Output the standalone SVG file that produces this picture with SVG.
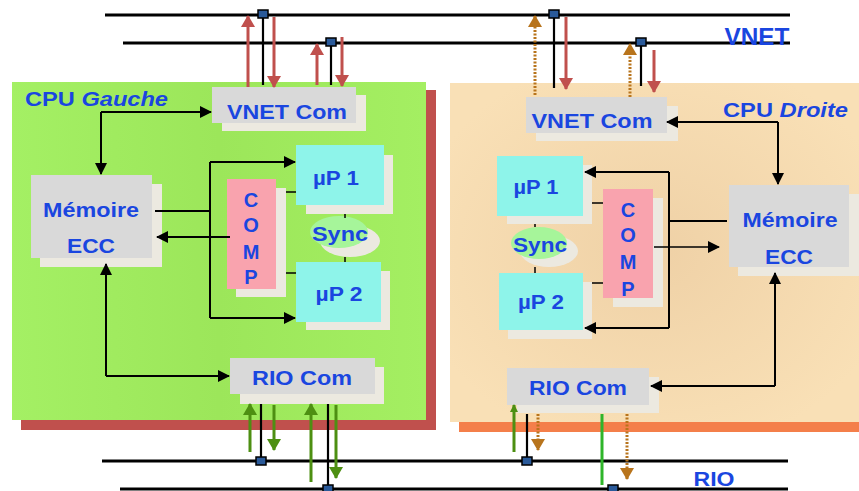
<svg xmlns="http://www.w3.org/2000/svg" width="859" height="491" viewBox="0 0 859 491">
<defs>
<style>
.t{font-family:"Liberation Sans",Arial,sans-serif;font-weight:bold;fill:#1a46e0;text-anchor:middle;dominant-baseline:central;font-size:21px}
.box{fill:#d9d9d9}
.sh{fill:#ece9e0}
.up{fill:#8ef4ea}
.cmp{fill:#f9a3ae}
.bus{stroke:#000;stroke-width:3;fill:none}
.blk{stroke:#000;stroke-width:2.2;fill:none}
.con{stroke:#000;stroke-width:2;fill:none}
.red{stroke:#c0504d;stroke-width:3;fill:none}
.grn{stroke:#4d8f12;stroke-width:3;fill:none}
.grn2{stroke:#2fb52a;stroke-width:3;fill:none}
.org{stroke:#b8741c;stroke-width:3;stroke-dasharray:2 1.5;fill:none}
.nd{fill:#2a5a9a;stroke:#000;stroke-width:1.5}
</style>
<marker id="agS" markerWidth="8" markerHeight="8" refX="7" refY="4" orient="auto" markerUnits="userSpaceOnUse" viewBox="0 0 8 8"><path d="M0,0L8,4L0,8z" fill="#4d8f12"/></marker>
<marker id="ahL" markerWidth="12" markerHeight="12" refX="11" refY="6" orient="auto" markerUnits="userSpaceOnUse" viewBox="0 0 12 12"><path d="M0,0L12,6L0,12z" fill="#000"/></marker>
<marker id="ar" markerWidth="12" markerHeight="14" refX="11" refY="7" orient="auto" markerUnits="userSpaceOnUse" viewBox="0 0 12 14"><path d="M0,0L12,7L0,14z" fill="#c0504d"/></marker>
<marker id="ag" markerWidth="12" markerHeight="14" refX="11" refY="7" orient="auto" markerUnits="userSpaceOnUse" viewBox="0 0 12 14"><path d="M0,0L12,7L0,14z" fill="#4d8f12"/></marker>
<marker id="ao" markerWidth="12" markerHeight="14" refX="11" refY="7" orient="auto" markerUnits="userSpaceOnUse" viewBox="0 0 12 14"><path d="M0,0L12,7L0,14z" fill="#b8741c"/></marker>
<linearGradient id="gg" x1="0" y1="0" x2="1" y2="0"><stop offset="0" stop-color="#a4f064"/><stop offset="0.5" stop-color="#9ce65a"/><stop offset="1" stop-color="#a4ef62"/></linearGradient>
<radialGradient id="pg" cx="0.5" cy="0.5" r="0.6"><stop offset="0" stop-color="#efd1a6"/><stop offset="1" stop-color="#f9e0b6"/></radialGradient>
</defs>
<rect width="859" height="491" fill="#fff"/>

<!-- panels -->
<g id="panel-left">
<rect x="21" y="90" width="415" height="340" fill="#c0504d"/>
<rect x="12" y="82" width="414" height="338" fill="url(#gg)"/>
<text x="25" y="99" class="t" style="text-anchor:start;font-size:20px" textLength="143" lengthAdjust="spacingAndGlyphs">CPU <tspan font-style="italic">Gauche</tspan></text>
</g>
<g id="panel-right">
<rect x="459" y="92" width="400" height="340" fill="#f47f4a"/>
<rect x="450" y="83" width="409" height="339" fill="url(#pg)"/>
<text x="723" y="110" class="t" style="text-anchor:start;font-size:20px" textLength="125" lengthAdjust="spacingAndGlyphs">CPU <tspan font-style="italic">Droite</tspan></text>
</g>

<!-- buses -->
<g id="buses">
<line x1="105" y1="15" x2="790" y2="15" class="bus"/>
<line x1="123" y1="43" x2="790" y2="43" class="bus"/>
<line x1="102" y1="461" x2="788" y2="461" class="bus"/>
<line x1="120" y1="489" x2="788" y2="489" class="bus"/>
<text x="757" y="37" class="t" style="font-size:23px" textLength="65" lengthAdjust="spacingAndGlyphs">VNET</text>
<text x="714" y="478" class="t" style="font-size:21px" textLength="41" lengthAdjust="spacingAndGlyphs">RIO</text>
</g>

<!-- left nodes -->
<g id="l-vnetcom"><rect x="222" y="95" width="144" height="36" class="sh"/><rect x="212" y="87" width="144" height="36" class="box"/><text x="287" y="111" class="t" textLength="120" lengthAdjust="spacingAndGlyphs">VNET Com</text></g>
<g id="l-mem"><rect x="40" y="184" width="122" height="83" class="sh"/><rect x="31" y="175" width="121" height="83" class="box"/><text x="91" y="209" class="t" textLength="96" lengthAdjust="spacingAndGlyphs">Mémoire</text><text x="91" y="245" class="t" textLength="48" lengthAdjust="spacingAndGlyphs">ECC</text></g>
<g id="l-comp"><rect x="236" y="188" width="50" height="109" class="sh"/><rect x="227" y="179" width="49" height="110" class="cmp"/><text x="251" y="200" class="t" style="font-size:20px">C</text><text x="251" y="225" class="t" style="font-size:20px">O</text><text x="251" y="252" class="t" style="font-size:20px">M</text><text x="251" y="277" class="t" style="font-size:20px">P</text></g>
<g id="l-up1"><rect x="306" y="155" width="87" height="59" class="sh"/><rect x="296" y="145" width="88" height="60" class="up"/><text x="336" y="177" class="t" textLength="46" lengthAdjust="spacingAndGlyphs">µP 1</text></g>
<g id="l-sync"><ellipse cx="350" cy="241" rx="30" ry="16" class="sh"/><ellipse cx="339" cy="232" rx="29" ry="16" fill="#a6f59a"/><text x="340" y="233" class="t" textLength="56" lengthAdjust="spacingAndGlyphs">Sync</text></g>
<g id="l-up2"><rect x="306" y="271" width="84" height="59" class="sh"/><rect x="296" y="262" width="85" height="60" class="up"/><text x="339" y="293" class="t" textLength="47" lengthAdjust="spacingAndGlyphs">µP 2</text></g>
<g id="l-riocom"><rect x="240" y="367" width="144" height="37" class="sh"/><rect x="230" y="358" width="145" height="36" class="box"/><text x="302" y="377" class="t" textLength="100" lengthAdjust="spacingAndGlyphs">RIO Com</text></g>

<!-- right nodes -->
<g id="r-vnetcom"><rect x="536" y="106" width="142" height="35" class="sh"/><rect x="526" y="97" width="141" height="36" class="box"/><text x="592" y="120" class="t" textLength="121" lengthAdjust="spacingAndGlyphs">VNET Com</text></g>
<g id="r-mem"><rect x="738" y="194" width="121" height="82" class="sh"/><rect x="729" y="185" width="120" height="82" class="box"/><text x="790" y="219" class="t" textLength="95" lengthAdjust="spacingAndGlyphs">Mémoire</text><text x="789" y="256" class="t" textLength="48" lengthAdjust="spacingAndGlyphs">ECC</text></g>
<g id="r-up1"><rect x="507" y="165" width="85" height="59" class="sh"/><rect x="497" y="156" width="86" height="60" class="up"/><text x="536" y="186" class="t" textLength="45" lengthAdjust="spacingAndGlyphs">µP 1</text></g>
<g id="r-sync"><ellipse cx="549" cy="251" rx="29" ry="16" class="sh"/><ellipse cx="539" cy="243" rx="28" ry="16" fill="#a6f59a"/><text x="540" y="244" class="t" textLength="54" lengthAdjust="spacingAndGlyphs">Sync</text></g>
<g id="r-up2"><rect x="508" y="282" width="84" height="57" class="sh"/><rect x="499" y="273" width="84" height="57" class="up"/><text x="541" y="301" class="t" textLength="46" lengthAdjust="spacingAndGlyphs">µP 2</text></g>
<g id="r-comp"><rect x="613" y="198" width="50" height="109" class="sh"/><rect x="603" y="189" width="50" height="109" class="cmp"/><text x="628" y="210" class="t" style="font-size:20px">C</text><text x="628" y="235" class="t" style="font-size:20px">O</text><text x="628" y="262" class="t" style="font-size:20px">M</text><text x="628" y="289" class="t" style="font-size:20px">P</text></g>
<g id="r-riocom"><rect x="517" y="377" width="142" height="36" class="sh"/><rect x="507" y="368" width="142" height="37" class="box"/><text x="578" y="387" class="t" textLength="98" lengthAdjust="spacingAndGlyphs">RIO Com</text></g>

<!-- connectors -->
<g id="connectors">
<!-- left internal -->
<path d="M101,112H211" class="con" marker-end="url(#ahL)"/>
<path d="M101,112V174" class="con" marker-end="url(#ahL)"/>
<path d="M155,211H210" class="con"/>
<path d="M210,162V318" class="con"/>
<path d="M210,162H295" class="con" marker-end="url(#ahL)"/>
<path d="M210,318H295" class="con" marker-end="url(#ahL)"/>
<path d="M230,237H157" class="con" marker-end="url(#ahL)"/>
<path d="M286,192H296M286,273H296M345,214V218M345,257V262" stroke="#000" stroke-width="1.5"/>
<path d="M106,376V264" class="con" marker-end="url(#ahL)"/>
<path d="M106,376H229" class="con" marker-end="url(#ahL)"/>
<!-- right internal -->
<path d="M778,122H667" class="con" marker-end="url(#ahL)"/>
<path d="M778,122V184" class="con" marker-end="url(#ahL)"/>
<path d="M669,172V328" class="con"/>
<path d="M669,172H585" class="con" marker-end="url(#ahL)"/>
<path d="M669,328H585" class="con" marker-end="url(#ahL)"/>
<path d="M669,221H727" class="con"/>
<path d="M654,247H719" stroke="#000" stroke-width="1.3" fill="none" marker-end="url(#ahL)"/>
<path d="M592,203H603M592,283H603M535,224V227M535,267V273" stroke="#000" stroke-width="1.5"/>
<path d="M775,386V273" class="con" marker-end="url(#ahL)"/>
<path d="M775,386H651" class="con" marker-end="url(#ahL)"/>
<!-- top left bus links -->
<path d="M248,87V16" class="red" marker-end="url(#ar)"/>
<path d="M263,15V85" class="blk"/>
<path d="M274,17V87" class="red" marker-end="url(#ar)"/>
<path d="M317,85V44" class="red" marker-end="url(#ar)"/>
<path d="M331,43V85" class="blk"/>
<path d="M342,37V86" class="red" marker-end="url(#ar)"/>
<!-- top right bus links -->
<path d="M535,95V16" class="org" marker-end="url(#ao)"/>
<path d="M554,15V88" class="blk"/>
<path d="M566,17V89" class="red" marker-end="url(#ar)"/>
<path d="M630,97V44" class="org" marker-end="url(#ao)"/>
<path d="M641,43V86" class="blk"/>
<path d="M654,50V92" class="red" marker-end="url(#ar)"/>
<!-- bottom left bus links -->
<path d="M250,452V404" class="grn" marker-end="url(#ag)"/>
<path d="M261,404V461" class="blk"/>
<path d="M274,405V450" class="grn" marker-end="url(#ag)"/>
<path d="M311,482V404" class="grn" marker-end="url(#ag)"/>
<path d="M328,404V489" class="blk"/>
<path d="M336,405V478" class="grn" marker-end="url(#ag)"/>
<!-- bottom right bus links -->
<path d="M514,452V405" class="grn" marker-end="url(#agS)"/>
<path d="M527,414V461" class="blk"/>
<path d="M538,414V450" class="org" marker-end="url(#ao)"/>
<path d="M602,414V485" class="grn2"/>
<path d="M627,414V479" class="org" marker-end="url(#ao)"/>
<!-- bus nodes -->
<rect x="258" y="10" width="10" height="8" class="nd"/>
<rect x="326" y="38" width="10" height="8" class="nd"/>
<rect x="549" y="10" width="10" height="8" class="nd"/>
<rect x="636" y="38" width="10" height="8" class="nd"/>
<rect x="256" y="457" width="10" height="8" class="nd"/>
<rect x="323" y="485" width="10" height="8" class="nd"/>
<rect x="522" y="457" width="10" height="8" class="nd"/>
<rect x="608" y="485" width="10" height="8" class="nd"/>
</g>
</svg>
